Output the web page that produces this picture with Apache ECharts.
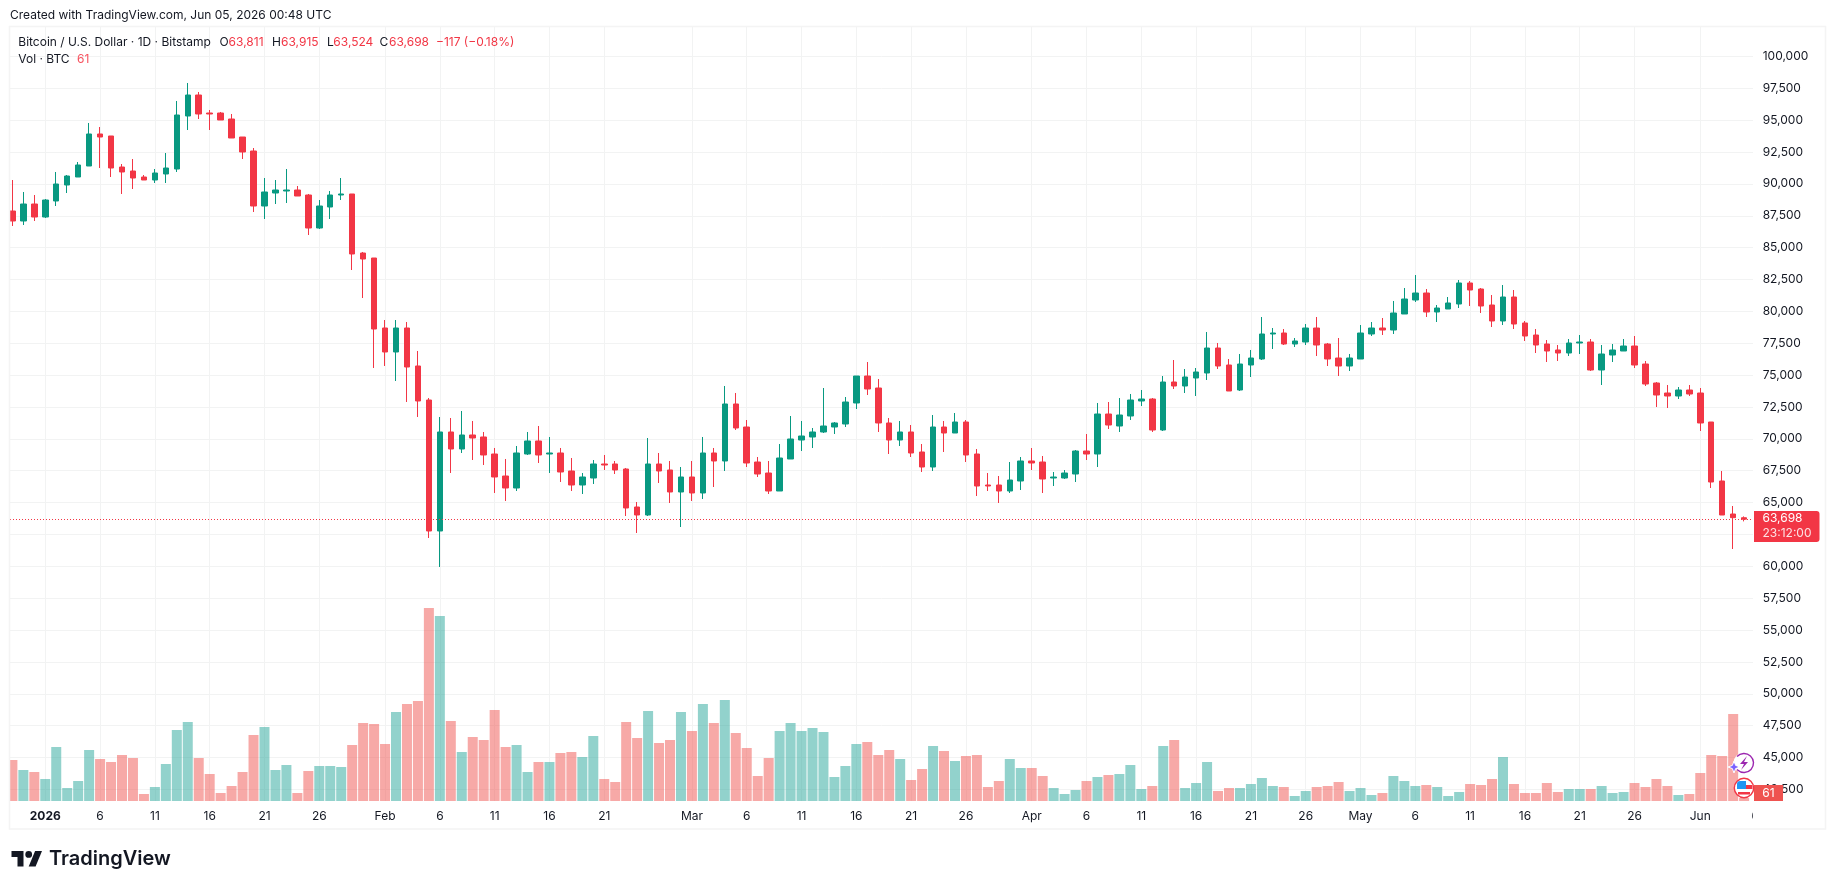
<!DOCTYPE html>
<html>
<head>
<meta charset="utf-8">
<title>Bitcoin / U.S. Dollar</title>
<style>
  html, body { margin: 0; padding: 0; background: #ffffff; }
  #chart { width: 1835px; height: 889px; }
</style>
<script src="https://cdn.jsdelivr.net/npm/echarts@6/dist/echarts.min.js"></script>
</head>
<body>
<div id="chart"></div>
<script>
// Daily BTC/USD candles from 29 Dec 2025 to 5 Jun 2026 (one entry per day).
const opens = [
  87873,87089,88422,87402,88658,89913,90540,91403,93914,93757,
  91325,91011,90540,90305,90776,91168,95326,96973,95561,95561,
  95090,93678,92580,88265,89285,89442,89520,89128,86539,88187,
  89128,89207,84578,84186,78695,76812,78695,75714,73046,62770,
  70536,69202,70301,70144,68810,67084,66143,68810,69830,68810,
  68889,67477,66378,66927,68026,68026,67633,64652,64025,68026,
  67555,65829,67006,65751,68889,68261,72733,70928,68182,67319,
  65907,68417,69908,70143,70536,70928,71163,72811,74929,73987,
  71242,69908,70536,68967,67790,70928,70457,71320,68810,66378,
  66378,65907,66692,68261,68182,66927,66927,67241,69045,68810,
  71948,71006,71791,72968,73124,70692,74458,74144,74772,75164,
  77125,75792,73830,75792,76262,78224,78302,77439,77596,78694,
  77439,76341,75713,76262,78224,78694,78537,79793,80891,81440,
  79950,80185,80577,82225,81754,80499,79244,81126,79087,78145,
  77439,76969,76733,77517,77596,75399,76576,76890,77282,75870,
  74379,73595,73359,73830,73595,71320,66692,64103,63811
];
const highs = [
  90305,89364,89128,88814,90933,90697,91717,94777,94463,93757,
  91560,91952,90697,91168,92423,96503,97915,97209,95796,95640,
  95483,93678,92815,90462,90305,91168,89834,89207,88736,89442,
  90462,89207,84657,84186,79322,79322,79166,76891,73203,71713,
  71634,72184,71399,70536,69281,68418,69438,70536,71007,70144,
  69281,68496,67320,68339,68732,68261,67712,65045,70065,68889,
  68261,67790,68261,70144,69281,74145,73596,71477,68574,68261,
  69594,71791,71399,70849,73987,71320,73281,74929,76027,74693,
  71634,71399,71085,69594,71869,71399,72026,71477,69202,67319,
  67084,68182,68574,69280,68653,67398,67554,69123,70379,72811,
  72889,73203,73517,73831,73203,74929,76184,75478,75556,78381,
  77518,76262,76655,76969,79557,78694,78616,77910,79008,79557,
  77518,77910,76655,78930,79165,79479,80813,81832,82852,81754,
  80499,81126,82460,82382,81832,81283,82068,81675,79244,78616,
  77753,77361,77831,78145,77831,77360,77439,77831,78066,76105,
  74458,74222,74065,74222,73987,71320,67476,64730,63915
];
const lows = [
  86696,86775,87089,87324,88265,89285,90540,91403,91246,90540,
  89207,89599,90305,90070,90070,90933,94227,95090,94227,95012,
  93600,91952,87795,87245,88422,88501,89050,85990,86461,87245,
  88736,83244,81048,75557,75714,74537,72890,71713,62220,59945,
  67320,68889,68339,67947,65751,65123,65908,68732,68104,67320,
  66614,65908,65672,66457,67555,67241,63946,62613,63946,66535,
  64966,63083,65123,65280,66221,67477,70693,67790,67005,65672,
  65907,68417,69045,69280,70457,70379,70928,72340,73438,70536,
  68810,69437,68574,67398,67476,68967,70457,68182,65515,65907,
  64966,65750,65985,67554,65750,66299,66848,66613,68339,67790,
  70771,70536,71477,72575,70536,70614,73909,73595,73360,74615,
  75478,73752,73752,74850,76184,77047,77361,77204,77361,76498,
  75713,74929,75321,76262,78067,78145,78224,79793,80734,79557,
  79165,80185,80263,80420,79871,78773,78930,78616,77675,76733,
  76027,76106,76497,76654,75321,74222,76027,76890,75556,74144,
  72496,72418,73124,73359,70614,66142,64024,61357,63524
];
const closes = [
  87089,88422,87402,88736,89991,90619,91482,93914,93678,91246,
  90933,90462,90305,90854,91246,95404,96973,95483,95483,95012,
  93600,92502,88265,89364,89520,89520,89050,86539,88265,89128,
  89207,84500,84107,78616,76812,78695,75635,72968,62770,70536,
  69202,70301,70065,68732,67006,66143,68889,69830,68732,68889,
  67398,66378,67006,68026,67947,67555,64574,64025,68026,67477,
  65829,67006,65751,68889,68261,72733,70850,68104,67241,65907,
  68496,69986,70222,70536,71006,71242,72889,74929,73909,71242,
  69908,70536,68888,67790,70928,70457,71320,68731,66299,66299,
  65907,66770,68261,68104,66848,67005,67319,69045,68810,71948,
  71085,71869,73046,73124,70692,74458,74144,74850,75243,77125,
  75713,73752,75870,76341,78224,78302,77439,77675,78694,77361,
  76262,75713,76341,78302,78694,78537,79871,80969,81440,79950,
  80263,80656,82225,81675,80420,79244,81126,79008,78067,77361,
  76890,76733,77517,77596,75399,76654,76968,77282,75791,74301,
  73438,73359,73830,73516,71242,66613,64024,63815,63698
];
// Traded volume in BTC, one bar per candle.
const volumes = [
  820,620,580,440,1080,260,400,1020,840,780,
  920,860,140,280,740,1420,1580,860,540,160,
  300,580,1320,1480,620,720,160,600,700,700,
  680,1120,1560,1540,1140,1780,1940,2000,3860,3700,
  1600,980,1280,1220,1820,1080,1120,580,780,780,
  960,980,880,1300,440,380,1580,1260,1800,1160,
  1220,1780,1400,1940,1560,2020,1360,1060,500,860,
  1400,1560,1400,1460,1380,480,700,1140,1180,920,
  1020,840,420,640,1100,1000,800,900,920,280,
  400,840,660,660,500,260,140,220,400,480,
  520,540,720,240,300,1100,1220,260,360,780,
  200,260,260,340,460,300,280,100,200,280,
  300,380,200,260,120,160,500,400,300,320,
  280,100,180,340,320,440,880,340,160,160,
  360,180,240,240,240,300,160,180,360,280,
  440,300,120,140,560,920,900,1740,61
];

// Time axis labels: candle index of each date tick and its text.
const xTickIndex = [3,8,13,18,23,28,34,39,44,49,54,62,67,72,77,82,87,93,98,103,108,113,118,123,128,133,138,143,148,154];
const xTickLabels = ['2026','6','11','16','21','26','Feb','6','11','16','21','Mar','6','11','16','21','26','Apr','6','11','16','21','26','May','6','11','16','21','26','Jun'];
// Price scale ticks.
const priceTicks = [100000,97500,95000,92500,90000,87500,85000,82500,80000,77500,75000,72500,70000,67500,65000,62500,60000,57500,55000,52500,50000,47500,45000,42500];

const lastPrice = closes[closes.length - 1];
const UP = '#089981', DOWN = '#F23645', INK = '#131722', GRID = '#f2f3f3';
const FONT = 'Inter, "Noto Sans", sans-serif';

const candleData = opens.map((o, i) => [i, o, closes[i], lows[i], highs[i]]);
const volumeData = volumes.map((v, i) => ({
  value: [i, v],
  itemStyle: { color: closes[i] >= opens[i] ? 'rgba(38,166,154,0.5)' : 'rgba(239,83,80,0.5)' }
}));
const labelFor = {};
xTickIndex.forEach((idx, i) => { labelFor[idx] = xTickLabels[i]; });

function txt(x, y, text, fill, size, extra) {
  return {
    type: 'text', x, y, z: 100, silent: true,
    style: Object.assign({ text, fill, font: (size || 12) + 'px ' + FONT, textVerticalAlign: 'middle' }, extra || {})
  };
}

const headerParts = [
  [18.3, 'Bitcoin / U.S. Dollar · 1D · Bitstamp', INK],
  [219.4, 'O', INK], [228.6, '63,811', DOWN],
  [272, 'H', INK], [281, '63,915', DOWN],
  [327, 'L', INK], [333.3, '63,524', DOWN],
  [379.5, 'C', INK], [389, '63,698', DOWN],
  [436, '−117 (−0.18%)', DOWN]
];

const graphics = [
  // Margin left of the pane: the first candle and bar are cut off here
  { type: 'rect', z: 89, silent: true, shape: { x: 0, y: 27, width: 9.5, height: 775 }, style: { fill: '#ffffff' } },
  // Frame around the chart panes
  { type: 'rect', z: 90, silent: true, shape: { x: 9.5, y: 26.5, width: 1816, height: 802.5 },
    style: { fill: 'none', stroke: '#f4f4f4', lineWidth: 1.5 } },
  txt(10, 15, 'Created with TradingView.com, Jun 05, 2026 00:48 UTC', INK, 12),
  ...headerParts.map(p => txt(p[0], 42.5, p[1], p[2], 12)),
  txt(18.3, 59.5, 'Vol · BTC', INK, 12),
  txt(77, 59.5, '61', '#f7525f', 12),

  // Next date tick, cut off where the price scale begins
  txt(1755.3, 816, '6', INK, 12, { textAlign: 'center' }),
  { type: 'rect', z: 101, silent: true, shape: { x: 1753, y: 806, width: 70, height: 21 }, style: { fill: '#ffffff' } },

  // Last price tag
  { type: 'rect', z: 102, silent: true, shape: { x: 1754, y: 511, width: 65.5, height: 31, r: [0, 3, 3, 0] }, style: { fill: DOWN } },
  { ...txt(1762.5, 518.5, '63,698', '#ffffff', 12), z: 103 },
  { ...txt(1762.5, 533, '23:12:00', 'rgba(255,255,255,0.85)', 12), z: 103 },

  // Last volume tag
  { type: 'rect', z: 102, silent: true, shape: { x: 1754, y: 785, width: 29, height: 16 }, style: { fill: '#EF5350' } },
  { ...txt(1768.5, 793, '61', '#ffffff', 12, { textAlign: 'center' }), z: 103 },

  // Event markers near the last bar
  { type: 'circle', z: 104, silent: true, shape: { cx: 1744, cy: 763, r: 10.5 }, style: { fill: '#ffffff' } },
  { type: 'arc', z: 105, silent: true, shape: { cx: 1744, cy: 763, r: 9.5, startAngle: -2.4, endAngle: 2.4 },
    style: { fill: 'none', stroke: '#9C27B0', lineWidth: 1.4 } },
  { type: 'polygon', z: 105, silent: true,
    shape: { points: [[1747, 756], [1740, 764], [1744, 764], [1741, 770], [1748, 762], [1744, 762]] },
    style: { fill: '#9C27B0' } },
  { type: 'polygon', z: 106, silent: true,
    shape: { points: [[1734, 761], [1735.6, 765.4], [1740, 767], [1735.6, 768.6], [1734, 773], [1732.4, 768.6], [1728, 767], [1732.4, 765.4]] },
    style: { fill: '#7B61FF', stroke: '#ffffff', lineWidth: 1 } },
  { type: 'circle', z: 104, silent: true, shape: { cx: 1744, cy: 788, r: 9.7 }, style: { fill: '#ffffff', stroke: '#F23645', lineWidth: 1.4 } },
  { type: 'rect', z: 105, silent: true, shape: { x: 1737, y: 781, width: 9, height: 8, r: [3, 0, 0, 0] }, style: { fill: '#2196F3' } },
  { type: 'rect', z: 105, silent: true, shape: { x: 1746, y: 785, width: 6.5, height: 4 }, style: { fill: '#F23645' } },
  { type: 'rect', z: 105, silent: true, shape: { x: 1738, y: 792, width: 12, height: 2.5 }, style: { fill: '#F23645' } },

  // Brand mark and word mark under the chart
  { type: 'polygon', z: 100, silent: true,
    shape: { points: [[23.5, 866.4], [17.5, 866.4], [17.5, 857], [11.5, 857], [11.5, 851], [23.5, 851]] },
    style: { fill: '#131722' } },
  { type: 'circle', z: 100, silent: true, shape: { cx: 28.7, cy: 854.4, r: 3.4 }, style: { fill: '#131722' } },
  { type: 'polygon', z: 100, silent: true,
    shape: { points: [[35.6, 866.4], [28.7, 866.4], [35.1, 851], [42, 851]] },
    style: { fill: '#131722' } },
  { type: 'text', z: 100, x: 49, y: 859, silent: true,
    style: { text: 'TradingView', fill: '#131722', font: '600 20px ' + FONT, textVerticalAlign: 'middle' } }
];

// 10.96 px per day; the first candle sits 2.4 px right of the pane's left edge.
const xMin = -0.219, xMax = 158.81;

const chart = echarts.init(document.getElementById('chart'), null, { renderer: 'canvas' });
chart.setOption({
  animation: false,
  backgroundColor: '#ffffff',
  textStyle: { fontFamily: FONT },
  graphic: { elements: graphics },
  grid: [
    { left: 10, width: 1743, top: 27, height: 774, containLabel: false },
    { left: 10, width: 1743, top: 608, height: 193, containLabel: false }
  ],
  xAxis: [
    {
      type: 'value', gridIndex: 0, min: xMin, max: xMax, position: 'bottom',
      axisLine: { show: false },
      axisTick: { show: false, customValues: xTickIndex },
      splitLine: { show: true, lineStyle: { color: GRID, width: 1 } },
      axisLabel: {
        customValues: xTickIndex, margin: 9, color: INK, fontSize: 12, fontFamily: FONT,
        formatter: v => {
          const t = labelFor[v];
          return t === '2026' ? '{year|2026}' : t;
        },
        rich: { year: { fontWeight: 700, fontSize: 12, color: INK, fontFamily: FONT } }
      }
    },
    { type: 'value', gridIndex: 1, min: xMin, max: xMax, show: false, splitLine: { show: false } }
  ],
  yAxis: [
    {
      type: 'value', gridIndex: 0, position: 'right', min: 41588, max: 102308, scale: true,
      axisLine: { show: false },
      axisTick: { show: false, customValues: priceTicks },
      splitLine: { show: true, lineStyle: { color: GRID, width: 1 } },
      axisLabel: {
        customValues: priceTicks, margin: 9.7, align: 'left', color: INK, fontSize: 12, fontFamily: FONT,
        formatter: v => v.toLocaleString('en-US')
      }
    },
    { type: 'value', gridIndex: 1, min: 0, max: 3860, show: false, splitLine: { show: false } }
  ],
  series: [
    {
      name: 'Vol', type: 'bar', xAxisIndex: 1, yAxisIndex: 1,
      barWidth: 10, data: volumeData, clip: true, silent: true, z: 2
    },
    {
      name: 'BTCUSD', type: 'candlestick', xAxisIndex: 0, yAxisIndex: 0,
      barWidth: 6, data: candleData, clip: true, silent: true, z: 3,
      encode: { x: 0, y: [1, 2, 3, 4] },
      itemStyle: { color: UP, color0: DOWN, borderColor: UP, borderColor0: DOWN, borderWidth: 1 },
      markLine: {
        silent: true, symbol: 'none', animation: false, label: { show: false },
        lineStyle: { color: DOWN, type: [1, 2], width: 1 },
        data: [{ yAxis: lastPrice }]
      }
    }
  ]
});
</script>
</body>
</html>
